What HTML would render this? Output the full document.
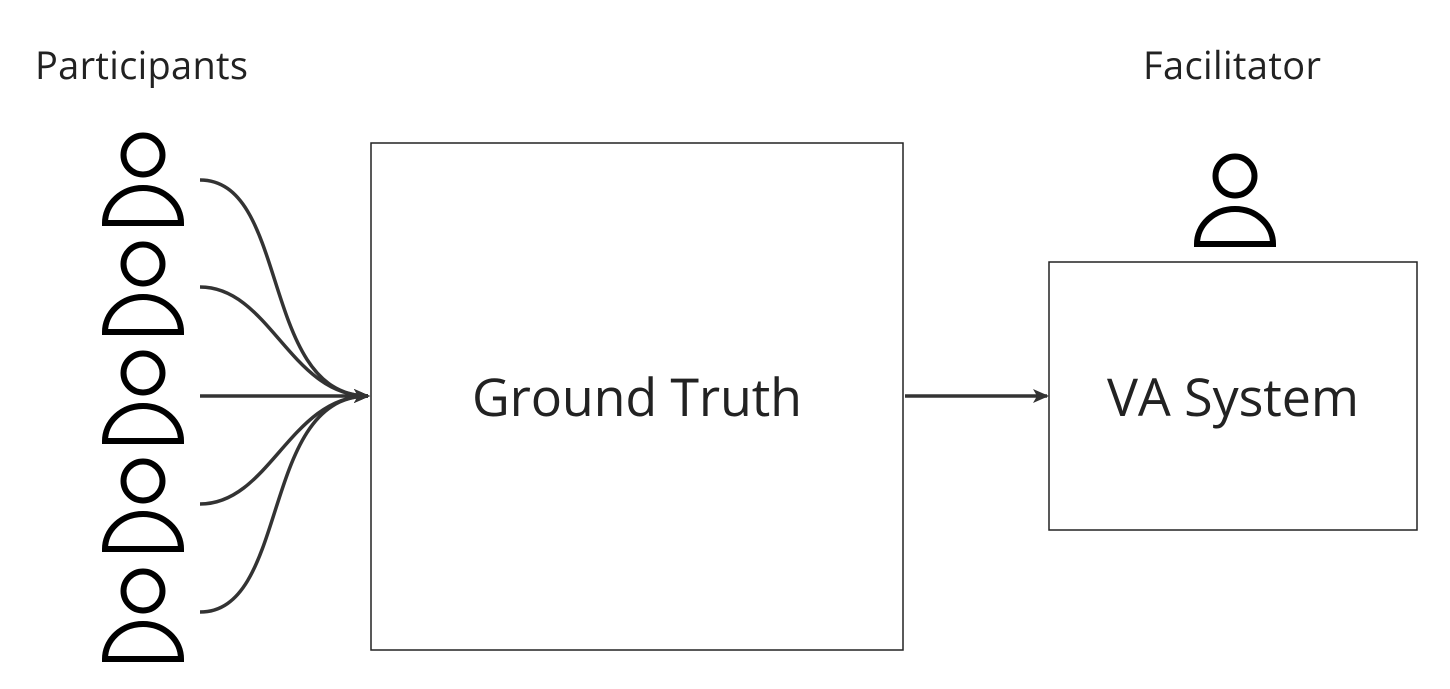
<!DOCTYPE html>
<html><head><style>
body{margin:0;background:#fff;}
svg{display:block;font-family:"Open Sans","Liberation Sans",sans-serif;}
</style></head><body>
<svg width="1450" height="689" viewBox="0 0 1450 689">
<defs>
<marker id="a" markerWidth="16" markerHeight="16" refX="14" refY="8" orient="auto" markerUnits="userSpaceOnUse">
<path d="M0,1 L16,8 L0,15 L4,8 Z" fill="#333"/></marker>
<g id="p" fill="none" stroke="#000" stroke-width="6">
<circle cx="0" cy="0" r="19.5"/>
<path d="M-38,68 A38,35 0 0 1 38,68 Z"/>
</g>
</defs>
<rect x="0" y="0" width="1450" height="689" fill="#fff"/>
<text x="35" y="79" font-size="38" fill="#222" textLength="213">Participants</text>
<text x="1143" y="79" font-size="38" fill="#222" textLength="178">Facilitator</text>
<use href="#p" x="143" y="155"/>
<use href="#p" x="143" y="264"/>
<use href="#p" x="143" y="373"/>
<use href="#p" x="143" y="481"/>
<use href="#p" x="143" y="591"/>
<use href="#p" x="1235" y="176"/>
<g fill="none" stroke="#333" stroke-width="3.5">
<path d="M200,180 C290,180 260,396 368,396" marker-end="url(#a)"/>
<path d="M200,287 C270,287 290,396 368,396" marker-end="url(#a)"/>
<path d="M200,396 L368,396" marker-end="url(#a)"/>
<path d="M200,504 C270,504 290,396 368,396" marker-end="url(#a)"/>
<path d="M200,612 C290,612 260,396 368,396" marker-end="url(#a)"/>
<path d="M905,396 L1047,396" marker-end="url(#a)"/>
</g>
<rect x="371" y="143" width="532" height="507" fill="none" stroke="#222" stroke-width="1.5"/>
<rect x="1049" y="262" width="368" height="268" fill="none" stroke="#222" stroke-width="1.5"/>
<text x="472" y="416" font-size="52" fill="#222" textLength="330">Ground Truth</text>
<text x="1107" y="416" font-size="52" fill="#222" textLength="252">VA System</text>
</svg>
</body></html>
